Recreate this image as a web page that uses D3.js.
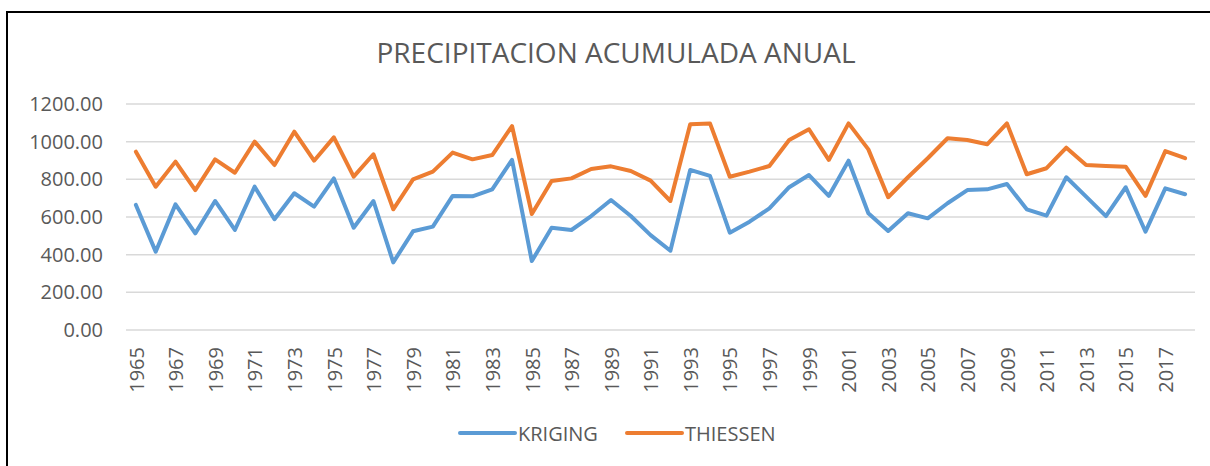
<!DOCTYPE html>
<html>
<head>
<meta charset="utf-8">
<script src="https://cdn.jsdelivr.net/npm/d3@7"></script>
<style>
  body { margin: 0; background: #fff; }
  text { font-family: "Open Sans", sans-serif; fill: #595959; }
</style>
</head>
<body>
<div id="chart"></div>
<script>
var years = d3.range(1965, 2019);
var kriging = [664, 416, 667, 513, 685, 531, 761, 588, 726, 655,
               805, 543, 685, 359, 524, 549, 712, 710, 747, 903,
               366, 543, 531, 605, 690, 605, 504, 421, 850, 818,
               517, 575, 646, 758, 823, 712, 899, 620, 526, 620,
               593, 673, 743, 747, 775, 641, 607, 811, 708, 605,
               758, 522, 752, 721];
var thiessen = [947, 761, 894, 743, 906, 835, 1000, 876, 1053, 899,
                1023, 814, 933, 641, 800, 841, 942, 906, 929, 1083,
                616, 791, 805, 855, 869, 844, 793, 685, 1092, 1097,
                814, 841, 871, 1009, 1066, 903, 1097, 959, 705, 811,
                912, 1018, 1009, 986, 1097, 827, 859, 968, 876, 871,
                867, 712, 950, 912];
var yTicks = [0, 200, 400, 600, 800, 1000, 1200];
var seriesNames = ["KRIGING", "THIESSEN"];
var colors = ["#5B9BD5", "#ED7D31"];

var w = 1210, h = 466;
var svg = d3.select("#chart").append("svg")
    .attr("width", w)
    .attr("height", h);

// chart frame (only left and top edges are inside the picture)
svg.append("rect")
    .attr("x", 7).attr("y", 12)
    .attr("width", 1400).attr("height", 600)
    .attr("fill", "none")
    .attr("stroke", "#000")
    .attr("stroke-width", 2);

svg.append("text")
    .attr("x", 616).attr("y", 63)
    .attr("text-anchor", "middle")
    .style("font-size", "28px")
    .text("PRECIPITACION ACUMULADA ANUAL");

var x = d3.scalePoint()
    .domain(years)
    .range([126, 1195])
    .padding(0.5);

var y = d3.scaleLinear()
    .domain([0, 1200])
    .range([330, 104]);

// gridlines
svg.append("g").selectAll("line")
    .data(yTicks)
    .enter().append("line")
    .attr("x1", 126).attr("x2", 1195)
    .attr("y1", function(d) { return y(d); })
    .attr("y2", function(d) { return y(d); })
    .attr("stroke", "#D9D9D9")
    .attr("stroke-width", 1.5);

// y axis labels
var yAxis = svg.append("g")
    .attr("transform", "translate(126,0)")
    .call(d3.axisLeft(y).tickValues(yTicks).tickSize(0).tickPadding(23)
        .tickFormat(function(d) { return d.toFixed(2); }));
yAxis.select(".domain").remove();
yAxis.selectAll("text")
    .style("font-size", "20px")
    .attr("fill", "#595959");

// x axis labels, every other year
var xAxis = svg.append("g")
    .attr("transform", "translate(0,330)")
    .call(d3.axisBottom(x).tickSize(0)
        .tickValues(years.filter(function(d, i) { return i % 2 === 0; })));
xAxis.select(".domain").remove();
xAxis.selectAll("text")
    .style("font-size", "20px")
    .attr("fill", "#595959")
    .attr("text-anchor", "end")
    .attr("transform", "rotate(-90)")
    .attr("x", -17)
    .attr("y", 0)
    .attr("dy", "0.36em");

var line = d3.line()
    .x(function(d, i) { return x(years[i]); })
    .y(function(d) { return y(d); });

[kriging, thiessen].forEach(function(s, k) {
    svg.append("path")
        .datum(s)
        .attr("d", line)
        .attr("fill", "none")
        .attr("stroke", colors[k])
        .attr("stroke-width", 4)
        .attr("stroke-linejoin", "round")
        .attr("stroke-linecap", "round");
});

// legend
var legX = [460, 627];
seriesNames.forEach(function(name, k) {
    svg.append("line")
        .attr("x1", legX[k]).attr("x2", legX[k] + 55)
        .attr("y1", 433).attr("y2", 433)
        .attr("stroke", colors[k])
        .attr("stroke-width", 4)
        .attr("stroke-linecap", "round");
    svg.append("text")
        .attr("x", legX[k] + 58).attr("y", 434)
        .attr("dy", "0.36em")
        .style("font-size", "20px")
        .text(name);
});
</script>
</body>
</html>
